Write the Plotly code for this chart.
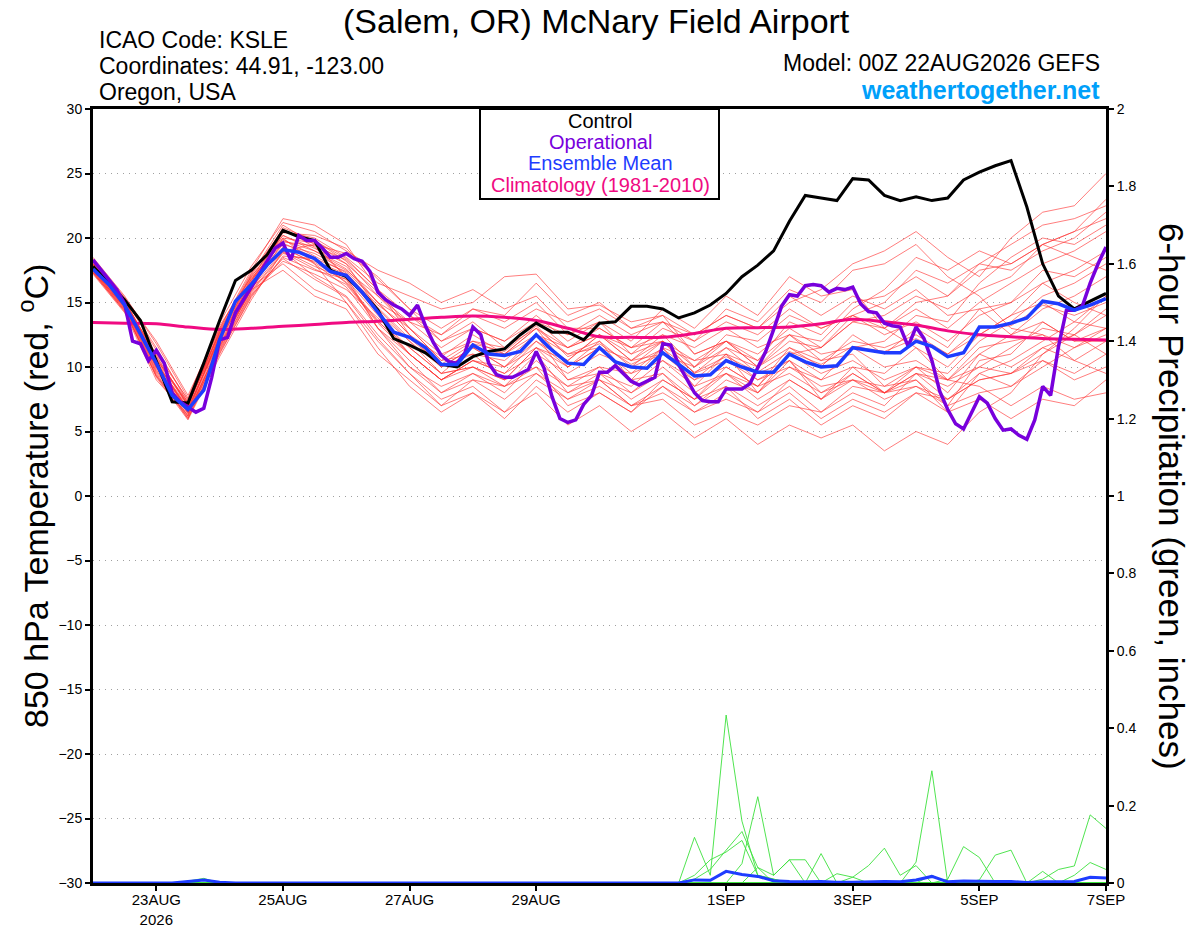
import plotly.graph_objects as go
import pandas as pd

# ---------------- time axes ----------------
START = "2026-08-22 00:00"
times_6h = pd.date_range(START, periods=65, freq="6h")
times_3h = pd.date_range(START, periods=129, freq="3h")
times_12h = pd.date_range(START, periods=33, freq="12h")

tick_dates = ["2026-08-23", "2026-08-25", "2026-08-27", "2026-08-29",
              "2026-09-01", "2026-09-03", "2026-09-05", "2026-09-07"]
tick_labels = ["23AUG<br>2026", "25AUG", "27AUG", "29AUG",
               "1SEP", "3SEP", "5SEP", "7SEP"]

# ---------------- 850 hPa temperature (deg C) ----------------
control_temp = [17.8, 16.5, 15.2, 13.6, 10.5, 7.3, 7.2, 10.3, 13.6, 16.7,
                17.5, 18.7, 20.6, 20.1, 19.8, 17.5, 17.0, 15.8, 14.4, 12.2,
                11.7, 11.1, 10.2, 10.0, 10.8, 11.2, 11.4, 12.5, 13.4, 12.7,
                12.7, 12.1, 13.4, 13.5, 14.7, 14.7, 14.5, 13.8, 14.2, 14.8,
                15.7, 17.0, 17.9, 19.0, 21.3, 23.3, 23.1, 22.9, 24.6, 24.5,
                23.3, 22.9, 23.2, 22.9, 23.1, 24.5, 25.1, 25.6, 26.0, 22.4,
                18.0, 15.5, 14.5, 15.1, 15.7]

ens_mean_temp = [17.6, 16.4, 14.8, 12.6, 10.3, 7.8, 6.7, 8.2, 12.1, 15.1,
                 16.4, 17.9, 19.1, 18.9, 18.4, 17.4, 17.1, 15.8, 14.2, 12.7,
                 12.3, 11.5, 10.2, 10.2, 11.7, 11.0, 10.9, 11.2, 12.5, 11.3,
                 10.3, 10.2, 11.5, 10.4, 10.0, 9.9, 11.1, 10.2, 9.3, 9.4,
                 10.5, 10.0, 9.6, 9.6, 11.0, 10.4, 10.0, 10.1, 11.5, 11.3,
                 11.1, 11.1, 12.0, 11.6, 10.8, 11.1, 13.1, 13.1, 13.4, 13.8,
                 15.1, 14.9, 14.4, 14.8, 15.3]

operational_temp = [18.3, 17.5, 16.7, 16.0, 14.9, 12.0, 11.8, 10.5, 11.3, 10.3,
                    8.0, 7.3, 6.9, 6.5, 6.8, 9.2, 12.1, 12.3, 14.2, 15.2,
                    16.2, 17.3, 18.3, 19.2, 19.6, 18.3, 20.2, 19.8, 19.8, 19.2,
                    18.5, 18.5, 18.8, 18.4, 18.2, 17.4, 15.8, 15.2, 14.8, 14.5,
                    14.0, 14.8, 13.2, 11.9, 10.9, 10.4, 10.3, 11.1, 13.1, 12.5,
                    10.3, 9.4, 9.2, 9.2, 9.5, 9.8, 11.2, 9.9, 7.7, 6.0,
                    5.7, 5.9, 7.1, 7.8, 9.6, 9.6, 10.1, 9.5, 8.9, 8.6,
                    8.9, 9.2, 11.8, 11.7, 10.2, 9.1, 8.0, 7.4, 7.3, 7.3,
                    8.3, 8.3, 8.3, 8.7, 9.9, 11.2, 12.9, 14.7, 15.6, 15.5,
                    16.3, 16.4, 16.3, 15.8, 16.1, 16.0, 16.2, 14.9, 14.3, 14.2,
                    13.4, 13.2, 13.1, 11.6, 13.1, 12.2, 10.5, 8.1, 6.7, 5.6,
                    5.2, 6.4, 7.7, 7.2, 6.0, 5.1, 5.2, 4.7, 4.4, 5.9,
                    8.5, 7.8, 11.6, 14.4, 14.4, 14.7, 16.5, 18.0, 19.3]

climatology_temp = [13.45, 13.4, 13.35, 13.1, 12.9, 13.0, 13.15, 13.3, 13.45, 13.55,
                    13.7, 13.85, 13.95, 13.85, 13.6, 13.0, 12.35, 12.3, 12.3, 12.6,
                    13.0, 13.05, 13.1, 13.35, 13.7, 13.5, 13.25, 12.8, 12.5, 12.35,
                    12.2, 12.15, 12.1]

# ensemble members, 12-hourly
m01 = [18.0, 15.2, 10.5, 6.5, 12.5, 16.8, 19.8, 19.0, 17.8, 15.0, 12.5, 10.8, 12.5, 11.0, 13.0, 10.0, 12.0,
       9.0, 11.5, 8.5, 11.0, 8.0, 10.5, 7.5, 9.5, 8.0, 9.0, 7.0, 10.5, 11.0, 13.5, 12.0, 13.0]
m02 = [17.5, 14.6, 9.8, 6.2, 11.5, 16.0, 20.5, 20.0, 18.5, 16.5, 15.5, 14.5, 15.0, 17.0, 17.2, 14.5, 14.8,
       13.5, 14.0, 12.5, 14.0, 13.0, 15.0, 16.0, 18.0, 19.0, 20.5, 18.5, 17.0, 20.0, 22.0, 22.5, 25.0]
m03 = [17.8, 14.9, 10.2, 7.0, 12.8, 17.2, 21.0, 19.5, 17.0, 13.0, 10.0, 8.5, 9.5, 8.0, 10.5, 8.5, 9.0,
       7.0, 8.5, 6.5, 8.0, 6.5, 9.0, 7.5, 10.0, 9.5, 11.5, 10.0, 12.5, 14.0, 16.5, 17.5, 19.0]
m04 = [17.3, 14.4, 9.5, 6.0, 11.0, 15.5, 18.5, 17.5, 16.8, 14.0, 11.0, 9.0, 10.5, 9.5, 12.0, 10.5, 12.5,
       11.0, 13.0, 12.0, 14.5, 13.5, 16.0, 15.0, 17.5, 18.0, 19.5, 17.0, 15.5, 13.0, 12.5, 10.5, 9.5]
m05 = [18.2, 15.0, 11.0, 7.5, 13.2, 17.0, 20.0, 18.0, 15.0, 11.5, 8.5, 6.5, 8.0, 6.0, 8.5, 6.5, 8.0,
       6.5, 9.0, 7.5, 10.0, 8.5, 11.5, 10.0, 12.5, 11.0, 13.0, 11.5, 14.5, 15.0, 17.5, 17.0, 18.5]
m06 = [17.6, 14.7, 10.0, 6.8, 12.0, 16.5, 19.5, 18.8, 17.5, 15.5, 13.5, 11.5, 13.0, 12.0, 14.0, 12.0, 13.5,
       12.0, 14.5, 13.0, 15.5, 14.0, 17.0, 15.5, 16.0, 13.0, 11.5, 9.0, 8.5, 7.0, 8.5, 7.5, 8.0]
m07 = [17.9, 15.3, 11.5, 7.2, 12.2, 16.2, 18.0, 16.0, 15.0, 12.0, 9.5, 7.5, 8.5, 6.5, 8.0, 5.5, 7.0,
       5.0, 6.5, 4.5, 6.0, 4.0, 5.5, 4.5, 5.5, 3.5, 5.0, 4.0, 6.5, 8.0, 11.0, 13.0, 15.5]
m08 = [17.4, 14.5, 9.2, 5.9, 10.8, 15.2, 19.0, 19.5, 18.8, 17.0, 14.5, 12.0, 13.5, 11.5, 13.0, 11.0, 11.5,
       9.5, 10.5, 8.5, 9.5, 8.0, 10.0, 9.0, 11.5, 12.0, 14.0, 13.5, 16.5, 18.5, 20.0, 19.5, 21.0]
m09 = [18.4, 15.4, 12.0, 7.8, 13.0, 17.5, 21.5, 21.0, 19.5, 16.0, 12.5, 10.0, 11.0, 10.5, 12.5, 9.0, 10.0,
       8.0, 9.5, 7.0, 8.5, 6.0, 7.5, 5.5, 7.0, 6.0, 8.0, 6.5, 9.5, 8.5, 10.5, 9.5, 11.0]
m10 = [17.2, 14.2, 9.0, 6.3, 11.8, 16.0, 17.5, 15.5, 14.5, 11.0, 9.0, 7.0, 9.0, 8.5, 11.0, 9.5, 11.0,
       10.0, 12.0, 9.5, 11.5, 10.5, 13.5, 12.5, 15.0, 15.5, 17.0, 15.5, 18.0, 17.5, 19.0, 20.0, 22.0]
m11 = [17.7, 14.8, 10.3, 6.6, 12.4, 16.6, 20.2, 19.2, 18.0, 14.5, 12.0, 9.5, 10.0, 9.0, 11.5, 9.0, 9.5,
       7.5, 9.0, 7.5, 9.5, 8.5, 11.0, 9.5, 10.5, 9.0, 10.0, 8.0, 11.0, 12.5, 14.5, 15.5, 17.0]
m12 = [18.1, 15.1, 10.8, 7.1, 12.7, 16.9, 19.6, 18.5, 16.5, 13.5, 11.5, 9.5, 11.5, 10.0, 12.0, 10.0, 11.5,
       10.5, 12.5, 10.0, 12.0, 11.0, 13.0, 11.5, 13.5, 13.0, 14.5, 13.0, 15.0, 16.5, 18.0, 19.0, 20.5]
m13 = [17.5, 14.6, 9.6, 6.4, 11.3, 15.8, 18.8, 18.2, 17.2, 14.8, 13.0, 11.0, 12.0, 11.5, 13.5, 11.5, 12.5,
       10.5, 11.0, 9.0, 10.0, 8.5, 9.5, 8.0, 9.0, 8.5, 10.0, 9.0, 11.0, 10.0, 11.5, 10.5, 12.0]
m14 = [18.5, 15.5, 11.8, 7.6, 13.4, 17.8, 21.2, 20.5, 19.0, 17.5, 16.5, 15.0, 16.0, 14.5, 15.5, 13.0, 13.0,
       11.5, 12.5, 11.5, 13.0, 11.5, 12.5, 11.0, 11.5, 10.0, 10.5, 9.0, 10.0, 9.5, 10.5, 9.0, 10.0]
m15 = [17.6, 14.8, 10.0, 6.9, 12.1, 16.3, 19.3, 18.0, 16.2, 13.0, 11.0, 9.0, 10.5, 10.0, 12.5, 11.0, 12.0,
       10.0, 11.0, 10.0, 12.5, 12.0, 14.0, 13.0, 14.0, 12.5, 13.5, 12.0, 14.0, 15.0, 16.5, 15.0, 14.0]
m16 = [17.9, 15.0, 10.6, 7.3, 12.6, 16.7, 20.8, 19.8, 18.2, 15.5, 13.0, 10.5, 12.0, 11.0, 12.5, 11.5, 13.0,
       11.5, 12.0, 10.5, 11.0, 9.0, 10.0, 8.5, 9.0, 7.5, 8.5, 7.0, 8.0, 8.5, 10.0, 11.5, 13.0]
m17 = [17.3, 14.3, 9.4, 6.1, 11.2, 15.6, 18.2, 17.2, 16.0, 13.8, 11.5, 9.5, 10.0, 8.5, 9.5, 7.5, 8.5,
       7.0, 8.0, 6.5, 7.5, 6.5, 8.0, 6.0, 7.5, 6.5, 8.0, 7.5, 9.0, 9.5, 11.5, 12.5, 14.5]
m18 = [18.0, 15.1, 10.9, 7.0, 12.9, 17.0, 20.2, 19.0, 17.6, 15.0, 13.5, 12.5, 14.0, 13.0, 14.5, 13.5, 14.5,
       13.0, 14.0, 11.0, 12.0, 10.0, 11.5, 10.5, 12.0, 11.5, 12.5, 11.0, 12.5, 14.0, 15.0, 13.5, 13.0]
m19 = [17.4, 14.5, 9.7, 6.5, 11.6, 16.1, 19.0, 17.8, 16.8, 13.0, 10.5, 8.0, 9.5, 8.5, 10.0, 8.5, 10.0,
       9.5, 11.5, 10.5, 12.0, 10.0, 12.0, 11.5, 13.5, 14.0, 15.5, 14.5, 16.0, 17.0, 19.5, 20.5, 21.5]
m20 = [17.8, 14.9, 10.4, 6.7, 12.3, 16.4, 19.9, 18.6, 17.3, 14.6, 12.2, 10.2, 11.8, 11.2, 13.2, 10.8, 11.8,
       10.2, 11.4, 9.6, 10.8, 9.6, 11.2, 10.2, 11.6, 11.2, 12.2, 11.0, 13.0, 13.2, 14.8, 14.0, 15.0]
m21 = [17.5, 14.7, 10.1, 6.6, 11.9, 16.2, 20.0, 19.6, 18.0, 15.8, 14.0, 12.5, 14.5, 14.0, 16.5, 14.0, 15.0,
       13.0, 13.5, 11.0, 12.0, 10.5, 12.5, 12.0, 14.5, 16.0, 18.5, 17.5, 19.0, 18.0, 19.5, 20.5, 23.0]
m22 = [18.1, 15.2, 10.7, 7.0, 12.6, 16.8, 19.0, 17.0, 15.5, 12.5, 10.0, 8.0, 9.0, 7.5, 9.5, 8.0, 9.5,
       8.5, 10.5, 9.0, 11.0, 10.0, 12.5, 10.5, 11.0, 8.5, 9.0, 6.5, 7.5, 6.0, 7.5, 7.0, 9.0]
m23 = [17.6, 14.8, 10.0, 6.4, 11.7, 16.0, 19.7, 19.4, 18.3, 16.0, 13.0, 10.5, 11.0, 9.0, 10.0, 7.0, 8.0,
       6.5, 8.5, 7.0, 9.0, 8.0, 11.0, 11.5, 14.0, 15.0, 17.5, 16.5, 18.0, 19.5, 21.0, 21.5, 22.5]
m24 = [17.4, 14.4, 9.3, 6.0, 11.1, 15.4, 18.6, 18.4, 17.4, 15.0, 12.5, 10.0, 11.5, 10.0, 11.5, 10.0, 11.5,
       9.0, 9.5, 7.5, 8.5, 7.0, 8.5, 6.5, 8.0, 7.0, 9.5, 8.5, 10.0, 11.5, 13.0, 12.5, 11.0]
m25 = [18.3, 15.3, 11.3, 7.4, 13.0, 17.3, 20.6, 19.8, 18.4, 16.0, 14.0, 12.0, 13.0, 12.0, 13.5, 12.5, 14.0,
       12.5, 13.5, 12.0, 13.5, 12.5, 14.5, 13.0, 14.0, 13.0, 15.0, 15.5, 17.5, 18.0, 19.5, 18.5, 17.5]
m26 = [17.7, 14.9, 10.3, 6.8, 12.2, 16.5, 19.2, 18.1, 16.6, 13.6, 11.0, 9.0, 10.5, 9.5, 11.0, 8.0, 9.0,
       7.0, 7.5, 5.5, 6.5, 5.5, 7.0, 6.5, 8.5, 8.0, 9.5, 9.0, 11.5, 12.0, 12.5, 11.5, 12.5]
m27 = [17.9, 15.0, 10.5, 7.1, 12.4, 16.6, 20.4, 20.2, 19.2, 16.8, 14.5, 13.0, 14.5, 13.5, 15.0, 12.5, 13.5,
       11.0, 12.0, 9.5, 10.5, 9.0, 10.5, 9.0, 10.0, 8.0, 8.5, 7.5, 9.5, 10.5, 12.0, 13.5, 15.5]
m28 = [17.5, 14.6, 9.9, 6.5, 11.6, 15.9, 18.9, 17.6, 16.4, 13.4, 11.0, 9.0, 10.0, 9.0, 11.5, 10.5, 12.5,
       11.5, 13.5, 12.5, 14.0, 13.0, 15.5, 14.0, 15.5, 14.5, 16.0, 14.0, 14.5, 12.5, 13.5, 12.0, 12.0]
m29 = [18.0, 15.0, 10.6, 7.2, 12.7, 17.1, 20.7, 19.3, 17.0, 14.2, 12.0, 10.0, 11.5, 11.0, 13.0, 11.5, 12.5,
       10.5, 12.0, 10.0, 11.5, 9.5, 10.5, 8.0, 9.5, 8.0, 9.5, 7.5, 9.0, 9.5, 11.0, 12.5, 14.0]
m30 = [17.3, 14.3, 9.3, 6.2, 11.4, 15.7, 18.4, 16.8, 15.4, 12.2, 9.5, 7.0, 8.0, 6.5, 9.0, 7.5, 9.0,
       8.0, 10.0, 8.0, 9.5, 7.5, 9.0, 7.5, 9.0, 8.0, 10.0, 9.5, 12.0, 13.5, 15.5, 16.5, 18.0]
temp_members = (m01, m02, m03, m04, m05, m06, m07, m08, m09, m10,
                m11, m12, m13, m14, m15, m16, m17, m18, m19, m20,
                m21, m22, m23, m24, m25, m26, m27, m28, m29, m30)

# ---------------- 6-hour precipitation (inches), 6-hourly ----------------
p01 = [0, 0, 0, 0, 0, 0, 0, 0, 0, 0,  0, 0, 0, 0, 0, 0, 0, 0, 0, 0,
       0, 0, 0, 0, 0, 0, 0, 0, 0, 0,  0, 0, 0, 0, 0, 0, 0, 0, 0.118, 0.02,
       0.434, 0.16, 0.02, 0.01, 0, 0, 0, 0, 0, 0,  0, 0, 0, 0, 0, 0, 0, 0, 0, 0,
       0, 0, 0, 0, 0]
p02 = [0, 0, 0, 0, 0, 0, 0.005, 0.012, 0, 0,  0, 0, 0, 0, 0, 0, 0, 0, 0, 0,
       0, 0, 0, 0, 0, 0, 0, 0, 0, 0,  0, 0, 0, 0, 0, 0, 0, 0, 0.02, 0.06,
       0.08, 0.11, 0.02, 0.01, 0, 0, 0, 0, 0, 0,  0, 0, 0, 0, 0, 0, 0, 0, 0, 0,
       0, 0, 0, 0, 0]
p03 = [0, 0, 0, 0, 0, 0, 0, 0.008, 0, 0,  0, 0, 0, 0, 0, 0, 0, 0, 0, 0,
       0, 0, 0, 0, 0, 0, 0, 0, 0, 0,  0, 0, 0, 0, 0, 0, 0, 0, 0.01, 0.035,
       0.085, 0.133, 0.04, 0, 0, 0, 0, 0, 0, 0,  0, 0, 0, 0, 0, 0, 0, 0, 0, 0,
       0, 0, 0, 0, 0]
p04 = [0, 0, 0, 0, 0, 0, 0, 0, 0, 0,  0, 0, 0, 0, 0, 0, 0, 0, 0, 0,
       0, 0, 0, 0, 0, 0, 0, 0, 0, 0,  0, 0, 0, 0, 0, 0, 0, 0, 0, 0,
       0, 0.05, 0.223, 0.02, 0.06, 0.06, 0, 0, 0, 0,  0, 0, 0, 0, 0, 0, 0, 0, 0, 0,
       0, 0, 0, 0, 0]
p05 = [0, 0, 0, 0, 0, 0, 0, 0, 0, 0,  0, 0, 0, 0, 0, 0, 0, 0, 0, 0,
       0, 0, 0, 0, 0, 0, 0, 0, 0, 0,  0, 0, 0, 0, 0, 0, 0, 0, 0, 0,
       0, 0, 0.04, 0.02, 0.06, 0, 0.076, 0, 0.015, 0.045,
       0.09, 0.02, 0.045, 0, 0, 0, 0, 0, 0, 0,
       0, 0, 0, 0, 0]
p06 = [0, 0, 0, 0, 0, 0, 0, 0, 0, 0,  0, 0, 0, 0, 0, 0, 0, 0, 0, 0,
       0, 0, 0, 0, 0, 0, 0, 0, 0, 0,  0, 0, 0, 0, 0, 0, 0, 0, 0, 0,
       0, 0, 0, 0, 0, 0, 0, 0, 0, 0,  0, 0, 0.054, 0.29, 0, 0, 0, 0, 0, 0,
       0, 0, 0, 0, 0]
p07 = [0, 0, 0, 0, 0, 0, 0, 0, 0, 0,  0, 0, 0, 0, 0, 0, 0, 0, 0, 0,
       0, 0, 0, 0, 0, 0, 0, 0, 0, 0,  0, 0, 0, 0, 0, 0, 0, 0, 0, 0,
       0, 0, 0, 0, 0, 0, 0, 0, 0, 0,  0, 0, 0, 0, 0.01, 0.094, 0.066, 0, 0, 0,
       0, 0, 0, 0, 0]
p08 = [0, 0, 0, 0, 0, 0, 0, 0, 0, 0,  0, 0, 0, 0, 0, 0, 0, 0, 0, 0,
       0, 0, 0, 0, 0, 0, 0, 0, 0, 0,  0, 0, 0, 0, 0, 0, 0, 0, 0, 0,
       0, 0, 0, 0, 0, 0, 0, 0, 0, 0,  0, 0, 0, 0, 0, 0, 0.008, 0.072, 0.085, 0,
       0.03, 0, 0, 0, 0]
p09 = [0, 0, 0, 0, 0, 0, 0, 0, 0, 0,  0, 0, 0, 0, 0, 0, 0, 0, 0, 0,
       0, 0, 0, 0, 0, 0, 0, 0, 0, 0,  0, 0, 0, 0, 0, 0, 0, 0, 0, 0,
       0, 0, 0, 0, 0, 0, 0, 0, 0, 0,  0, 0, 0, 0, 0, 0, 0, 0, 0, 0,
       0.01, 0.035, 0.044, 0.176, 0.141]
p10 = [0, 0, 0, 0, 0, 0, 0, 0, 0, 0,  0, 0, 0, 0, 0, 0, 0, 0, 0, 0,
       0, 0, 0, 0, 0, 0, 0, 0, 0, 0,  0, 0, 0, 0, 0, 0, 0, 0, 0, 0,
       0, 0, 0, 0, 0, 0, 0, 0.024, 0.015, 0,  0, 0, 0, 0.02, 0, 0, 0, 0, 0, 0,
       0, 0, 0.02, 0.053, 0.035]
precip_members = (p01, p02, p03, p04, p05, p06, p07, p08, p09, p10)

precip_mean = [0, 0, 0, 0, 0, 0, 0.004, 0.008, 0.002, 0,  0, 0, 0, 0, 0, 0, 0, 0, 0, 0,
               0, 0, 0, 0, 0, 0, 0, 0, 0, 0,  0, 0, 0, 0, 0, 0, 0, 0, 0.008, 0.007,
               0.030, 0.022, 0.017, 0.006, 0.004, 0.003, 0.004, 0.002, 0.002, 0.003,
               0.004, 0.003, 0.008, 0.017, 0.003, 0.005, 0.004, 0.004, 0.004, 0.001,
               0.003, 0.003, 0.004, 0.015, 0.013]

# ---------------- figure ----------------
fig = go.Figure()

for m in temp_members:
    fig.add_trace(go.Scatter(x=times_12h, y=m, mode="lines",
                             line=dict(color="rgba(255,50,50,0.7)", width=0.9),
                             hoverinfo="skip"))

for p in precip_members:
    fig.add_trace(go.Scatter(x=times_6h, y=p, mode="lines", yaxis="y2",
                             line=dict(color="rgb(60,225,60)", width=0.9),
                             hoverinfo="skip"))

fig.add_trace(go.Scatter(x=times_6h, y=precip_mean, mode="lines", yaxis="y2",
                         line=dict(color="rgb(30,60,255)", width=3)))

fig.add_trace(go.Scatter(x=times_12h, y=climatology_temp, mode="lines",
                         line=dict(color="rgb(240,10,130)", width=3, shape="spline")))
fig.add_trace(go.Scatter(x=times_6h, y=control_temp, mode="lines",
                         line=dict(color="black", width=3)))
fig.add_trace(go.Scatter(x=times_3h, y=operational_temp, mode="lines",
                         line=dict(color="rgb(120,0,220)", width=3.5)))
fig.add_trace(go.Scatter(x=times_6h, y=ens_mean_temp, mode="lines",
                         line=dict(color="rgb(30,60,255)", width=3.5)))

FIG_W, FIG_H = 1200, 927
L, R, T, B = 93, 1106, 109, 883


def px(xp):
    return (xp - L) / (R - L)


def py(yp):
    return (B - yp) / (B - T)


FONT = "Liberation Sans, Arial, Helvetica, sans-serif"
ann = []


def add_text(text, x, y, size, color="black", xanchor="center", angle=0):
    ann.append(dict(text=text, x=px(x), y=py(y), xref="paper", yref="paper",
                    showarrow=False, xanchor=xanchor, yanchor="middle",
                    textangle=angle, font=dict(family=FONT, size=size, color=color)))


add_text("(Salem, OR) McNary Field Airport", 596, 21, 34)
add_text("ICAO Code: KSLE", 97, 40, 23, xanchor="left")
add_text("Coordinates: 44.91, -123.00", 97, 66, 23, xanchor="left")
add_text("Oregon, USA", 97, 92, 23, xanchor="left")
add_text("Model: 00Z 22AUG2026 GEFS", 1102, 63, 23, xanchor="right")
add_text("<b>weathertogether.net</b>", 1102, 90, 25, color="rgb(0,160,250)", xanchor="right")

add_text("Control", 600, 121, 20)
add_text("Operational", 600, 142, 20, color="rgb(120,0,220)")
add_text("Ensemble Mean", 600, 163, 20, color="rgb(30,60,255)")
add_text("Climatology (1981-2010)", 600, 185, 20, color="rgb(240,10,130)")

add_text("850 hPa Temperature (red, <sup>o</sup>C)", 33, 496, 34, angle=-90)
add_text("6-hour Precipitation (green, inches)", 1172, 496, 35, angle=90)

fig.update_layout(
    width=FIG_W, height=FIG_H,
    margin=dict(l=L, r=FIG_W - R, t=T, b=FIG_H - B, autoexpand=False),
    plot_bgcolor="white", paper_bgcolor="white",
    showlegend=False,
    font=dict(family=FONT, color="black"),
    annotations=ann,
    shapes=[dict(type="rect", xref="paper", yref="paper",
                 x0=px(480), x1=px(719), y0=py(199), y1=1.0,
                 line=dict(color="black", width=2), fillcolor="white", layer="above")],
    xaxis=dict(type="date", range=[times_6h[0], times_6h[-1]],
               tickvals=tick_dates, ticktext=tick_labels,
               ticks="outside", ticklen=5, tickwidth=1.5, tickcolor="black",
               ticklabelstandoff=-4,
               showline=True, linewidth=3, linecolor="black", mirror=True,
               showgrid=False, zeroline=False, automargin=False,
               tickfont=dict(family=FONT, size=15, color="black")),
    yaxis=dict(range=[-30, 30], tick0=-30, dtick=5,
               ticks="outside", ticklen=5, tickwidth=1.5, tickcolor="black",
               showline=True, linewidth=3, linecolor="black",
               showgrid=True, gridcolor="rgb(160,160,160)", griddash="1px,5px", gridwidth=1,
               zeroline=False, automargin=False,
               tickfont=dict(family=FONT, size=14, color="black")),
    yaxis2=dict(range=[0, 2], tick0=0, dtick=0.2, overlaying="y", side="right",
                ticks="outside", ticklen=5, tickwidth=1.5, tickcolor="black",
                showline=True, linewidth=3, linecolor="black",
                showgrid=False, zeroline=False, automargin=False,
                tickfont=dict(family=FONT, size=14, color="black")),
)

# remove the page's default 8px body margin so the figure fills the window
fig.write_html("out.html", config={"displayModeBar": False},
               post_script="document.body.style.margin='0';")
